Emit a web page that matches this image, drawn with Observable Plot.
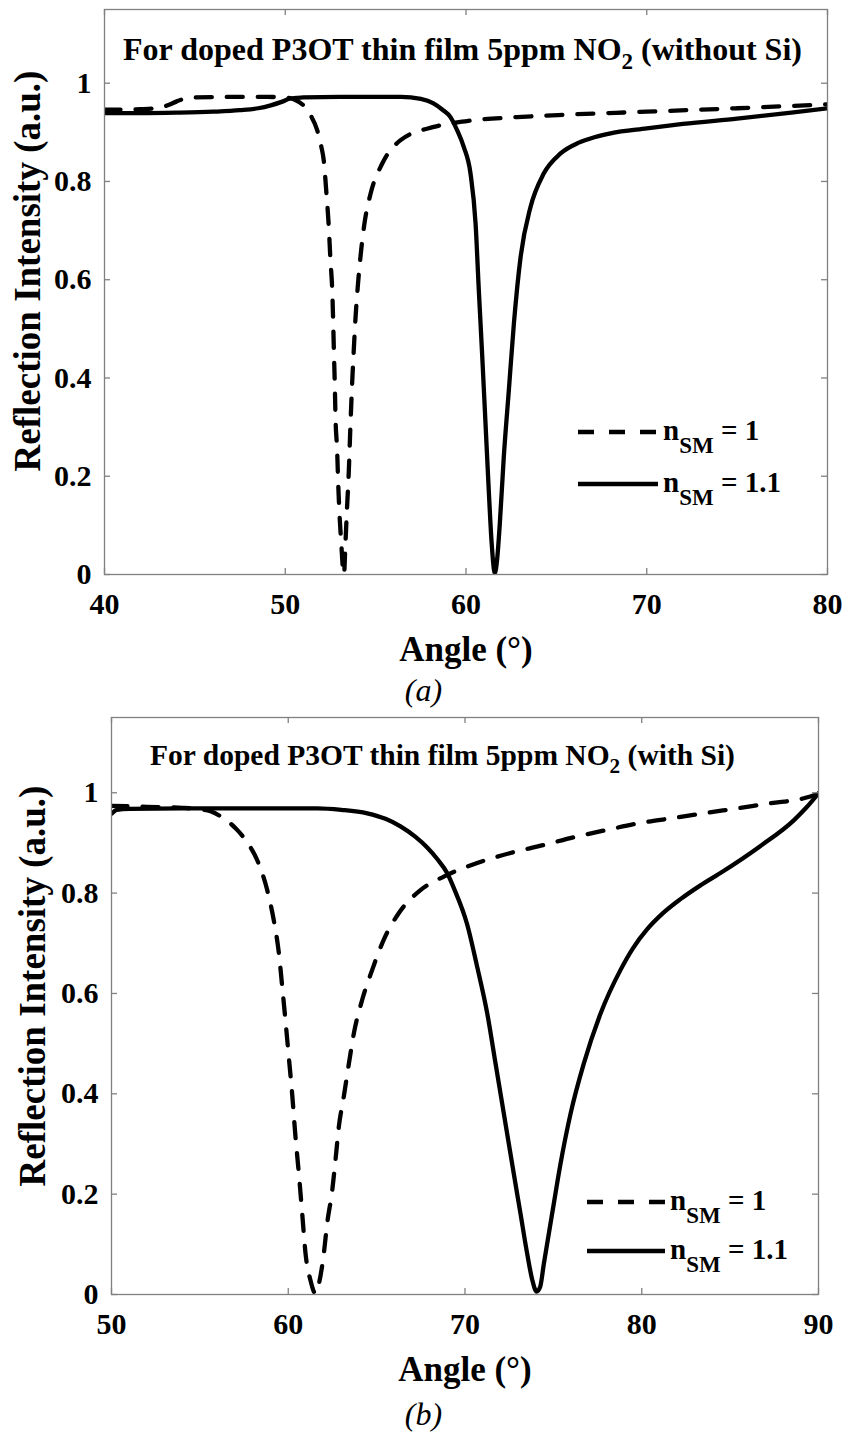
<!DOCTYPE html>
<html><head><meta charset="utf-8">
<script src="https://cdn.jsdelivr.net/npm/d3@7"></script>
<script src="https://cdn.jsdelivr.net/npm/@observablehq/plot@0.6"></script>
<style>
body{margin:0;background:#fff;}
#chart{width:847px;position:relative;}
svg{display:block;}
</style></head><body><div id="chart"></div>
<script>
// ---------- DATA ----------
const yTicks = [0, 0.2, 0.4, 0.6, 0.8, 1];
const xTicksA = [40, 50, 60, 70, 80];
const xTicksB = [50, 60, 70, 80, 90];
const titleA = ["For doped P3OT thin film 5ppm NO", "2", " (without Si)"];
const titleB = ["For doped P3OT thin film 5ppm NO", "2", " (with Si)"];
const xLabel = "Angle (°)";
const yLabel = "Reflection Intensity (a.u.)";
const legendLabels = [["n", "SM", " = 1"], ["n", "SM", " = 1.1"]];
const captions = ["(a)", "(b)"];

// Panel (a), n_SM = 1 (dashed)
const angleA1 = [40,41,42,43,43.5,44,44.5,45,47,49,50,50.5,51,51.4,51.77,52.0,52.13,52.28,52.41,52.5,52.6,52.65,52.69,52.74,52.78,52.87,52.93,53.0,53.1,53.2,53.25,53.33,53.42,53.51,53.61,53.7,53.79,53.89,54.01,54.16,54.38,54.72,55.36,56.38,58.22,60.06,62.83,65.6,70,75,80];
const reflA1  = [0.946,0.946,0.947,0.950,0.955,0.963,0.969,0.971,0.972,0.972,0.971,0.967,0.955,0.935,0.904,0.87,0.843,0.775,0.707,0.64,0.578,0.517,0.456,0.389,0.32,0.253,0.185,0.124,0.063,0.008,0.0,0.063,0.137,0.205,0.307,0.389,0.456,0.524,0.585,0.646,0.714,0.775,0.836,0.884,0.911,0.923,0.931,0.936,0.942,0.949,0.957];
// Panel (a), n_SM = 1.1 (solid)
const angleA2 = [40,42,44,46,47.5,48.5,49.2,49.8,50.3,50.6,51,53,56.4,57.5,58.2,58.7,59.14,59.5,59.88,60.25,60.53,60.71,60.9,61.08,61.26,61.41,61.6,61.72,61.87,62.09,62.37,62.65,63.02,63.57,64.3,65.23,66.24,67.1,68,70,72,75,78,80];
const reflA2  = [0.939,0.939,0.940,0.942,0.945,0.949,0.955,0.962,0.969,0.970,0.971,0.972,0.972,0.968,0.959,0.946,0.931,0.905,0.87,0.816,0.714,0.578,0.443,0.307,0.171,0.069,0.003,0.03,0.103,0.239,0.375,0.511,0.646,0.748,0.816,0.857,0.879,0.89,0.898,0.908,0.917,0.928,0.940,0.949];
// Panel (b), n_SM = 1 (dashed)
const angleB1 = [50,52,54,55,55.6,56.3,57.11,57.7,58.24,58.81,59.18,59.47,59.66,59.84,60.03,60.22,60.41,60.6,60.79,60.98,61.26,61.54,61.73,62.01,62.2,62.49,62.67,62.86,63.14,63.43,63.71,64.18,64.75,65.4,66.25,67.48,68.8,70.69,72.57,74.46,76.35,78.04,79.93,81.63,83.51,85.4,87.28,89.17,90];
const reflB1  = [0.974,0.972,0.970,0.967,0.963,0.95,0.926,0.9,0.866,0.806,0.746,0.68,0.613,0.547,0.474,0.4,0.314,0.241,0.161,0.081,0.028,0.002,0.021,0.081,0.141,0.208,0.267,0.334,0.394,0.46,0.52,0.587,0.647,0.707,0.76,0.806,0.833,0.86,0.88,0.896,0.913,0.926,0.94,0.949,0.959,0.969,0.979,0.989,0.998];
// Panel (b), n_SM = 1.1 (solid)
const angleB2 = [50,50.3,51,55,60,61.64,63,64.47,65.5,66.35,67.2,67.86,68.43,68.99,69.37,70.12,70.69,71.26,71.73,72.2,72.67,73.14,73.52,73.8,74.05,74.25,74.46,74.93,75.4,75.97,76.72,77.67,78.8,79.5,80.31,81.2,82.19,83.3,84.45,86.72,88.6,89.3,90];
const reflB2  = [0.958,0.966,0.968,0.969,0.969,0.969,0.966,0.959,0.948,0.933,0.912,0.891,0.868,0.84,0.81,0.738,0.653,0.56,0.46,0.36,0.26,0.161,0.081,0.03,0.006,0.015,0.061,0.161,0.26,0.36,0.46,0.56,0.647,0.69,0.728,0.76,0.788,0.815,0.84,0.894,0.945,0.97,0.999];

// ---------- DRAWING ----------
const FONT = "'Liberation Serif', 'Times New Roman', serif";
const W = 847;
const axisColor = "#808080";

function makePanel(cfg) {
  const d1 = cfg.x1.map((x, i) => ({x, y: cfg.y1[i]}));
  const d2 = cfg.x2.map((x, i) => ({x, y: cfg.y2[i]}));
  const plotH = cfg.height - cfg.mt - cfg.mb;
  const plotW = W - cfg.ml - cfg.mr;
  const svg = Plot.plot({
    width: W, height: cfg.height,
    marginTop: cfg.mt, marginBottom: cfg.mb, marginLeft: cfg.ml, marginRight: cfg.mr,
    style: {fontFamily: FONT, background: "white", color: "black", overflow: "visible"},
    x: {domain: cfg.xDomain},
    y: {domain: [0, 1.15]},
    marks: [
      Plot.line(d2, {x: "x", y: "y", stroke: "black", strokeWidth: 4.3, curve: "monotone-x", clip: true}),
      Plot.line(d1, {x: "x", y: "y", stroke: "black", strokeWidth: 4.3, strokeDasharray: "16,15", curve: "monotone-x", clip: true}),
      Plot.frame({stroke: axisColor, strokeWidth: 1.3}),
      Plot.tickX(cfg.xTicks, {x: d => d, stroke: axisColor, strokeWidth: 1.3, insetTop: plotH - 6}),
      Plot.tickX(cfg.xTicks, {x: d => d, stroke: axisColor, strokeWidth: 1.3, insetBottom: plotH - 6}),
      Plot.tickY(yTicks, {y: d => d, stroke: axisColor, strokeWidth: 1.3, insetRight: plotW - 6}),
      Plot.tickY(yTicks, {y: d => d, stroke: axisColor, strokeWidth: 1.3, insetLeft: plotW - 6}),
      Plot.axisX(cfg.xTicks, {tickSize: 0, tickPadding: 18, fontSize: 30, fontWeight: "bold", label: null, tickFormat: d => String(d)}),
      Plot.axisY(yTicks, {tickSize: 0, tickPadding: 13, fontSize: 30, fontWeight: "bold", label: null, tickFormat: d => String(d)}),
      Plot.text([xLabel], {text: d => d, frameAnchor: "bottom", dy: 86, lineAnchor: "bottom", fontSize: 35, fontWeight: "bold"}),
      Plot.text([yLabel], {text: d => d, frameAnchor: "left", textAnchor: "middle", rotate: -90, dx: cfg.ylabDx, dy: cfg.ylabDy, fontSize: 37, fontWeight: "bold", letterSpacing: 1})
    ]
  });
  const s = d3.select(svg);
  // title with subscript
  const t = s.append("text").attr("x", cfg.titleX).attr("y", cfg.titleY)
    .attr("text-anchor", "middle").attr("font-family", FONT).attr("font-weight", "bold")
    .attr("font-size", cfg.titleSize).attr("fill", "black");
  t.append("tspan").text(cfg.title[0]);
  t.append("tspan").attr("dy", cfg.titleSize * 0.28).attr("font-size", cfg.titleSize * 0.72).text(cfg.title[1]);
  t.append("tspan").attr("dy", -cfg.titleSize * 0.28).text(cfg.title[2]);
  // legend
  legendLabels.forEach((lab, i) => {
    const ly = cfg.legY[i];
    s.append("line").attr("x1", cfg.legX1).attr("x2", cfg.legX2).attr("y1", ly).attr("y2", ly)
      .attr("stroke", "black").attr("stroke-width", 4.3)
      .attr("stroke-dasharray", i === 0 ? "16,15" : null);
    const lt = s.append("text").attr("x", cfg.legX2 + 5).attr("y", ly + 8).attr("text-anchor", "start")
      .attr("font-family", FONT).attr("font-weight", "bold").attr("font-size", 29).attr("fill", "black");
    lt.append("tspan").text(lab[0]);
    lt.append("tspan").attr("dy", 13).attr("font-size", 23).text(lab[1]);
    lt.append("tspan").attr("dy", -13).text(lab[2]);
  });
  // caption
  s.append("text").attr("x", W / 2).attr("y", cfg.capY).attr("text-anchor", "middle")
    .attr("font-family", FONT).attr("font-style", "italic").attr("font-size", 32).attr("fill", "black")
    .text(cfg.caption);
  return svg;
}

const chart = document.getElementById("chart");
chart.appendChild(makePanel({
  height: 712, mt: 9, mb: 138, ml: 104, mr: 20,
  xDomain: [40, 80], xTicks: xTicksA,
  x1: angleA1, y1: reflA1, x2: angleA2, y2: reflA2,
  title: titleA, titleX: 462.5, titleY: 60, titleSize: 32,
  legX1: 578, legX2: 658, legY: [432, 484],
  ylabDx: -76, ylabDy: -21,
  caption: captions[0], capY: 701
}));
chart.appendChild(makePanel({
  height: 723, mt: 5, mb: 141, ml: 111, mr: 29,
  xDomain: [50, 90], xTicks: xTicksB,
  x1: angleB1, y1: reflB1, x2: angleB2, y2: reflB2,
  title: titleB, titleX: 442.5, titleY: 53, titleSize: 29.5,
  legX1: 587, legX2: 665, legY: [490, 539],
  ylabDx: -78, ylabDy: -20,
  caption: captions[1], capY: 713
}));
</script></body></html>
